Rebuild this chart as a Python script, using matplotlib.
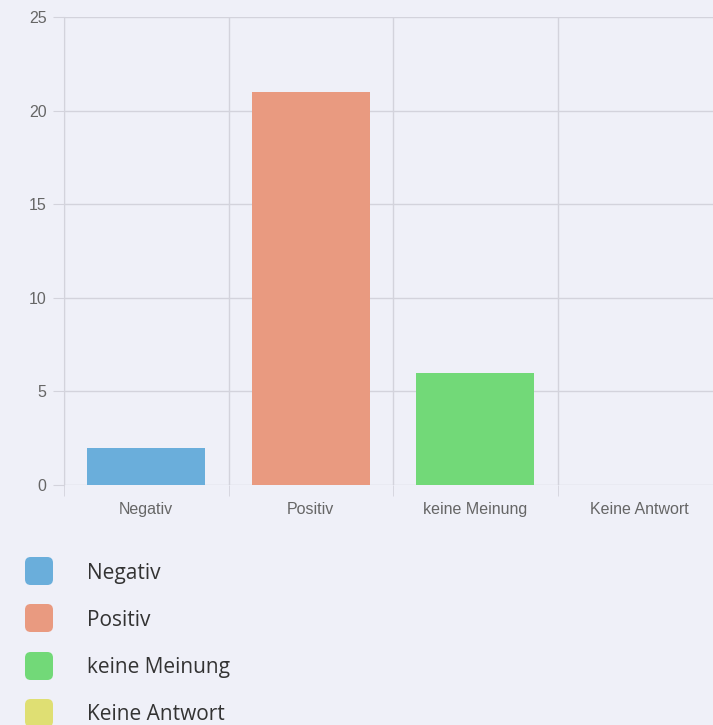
import matplotlib.pyplot as plt
from matplotlib.patches import FancyBboxPatch

categories = ['Negativ', 'Positiv', 'keine Meinung', 'Keine Antwort']
counts = [2, 21, 6, 0]
colors = ['#6aaedb', '#e99a80', '#72d978', '#dfdf73']
yticks = [0, 5, 10, 15, 20, 25]

bg = '#eff0f8'
grid_c = '#d3d3dc'

fig = plt.figure(figsize=(7.13, 7.25), dpi=100, facecolor=bg)
W, H = 713, 725
ax = fig.add_axes([64 / W, (H - 485) / H, (722 - 64) / W, (485 - 17) / H])
ax.set_facecolor(bg)

x = range(len(categories))
ax.bar(x, counts, width=0.72, color=colors, zorder=3)

ax.set_xlim(-0.5, len(categories) - 0.5)
ax.set_ylim(0, 25)
ax.set_yticks(yticks)
ax.set_xticks(list(x))
ax.set_xticklabels(categories)
ax.set_xticks([i - 0.5 for i in range(len(categories) + 1)], minor=True)

for s in ['top', 'right', 'bottom']:
    ax.spines[s].set_visible(False)
ax.spines['left'].set_color(grid_c)
ax.spines['left'].set_bounds(0, 25)

ax.grid(axis='y', color=grid_c, linewidth=1, zorder=0)
ax.grid(axis='x', which='minor', color=grid_c, linewidth=1, zorder=0)
ax.tick_params(axis='y', length=8, color=grid_c, pad=4.5,
               labelsize=11.5, labelcolor='#666666')
ax.tick_params(axis='x', which='major', length=0, pad=12,
               labelsize=11.5, labelcolor='#666666')
ax.tick_params(axis='x', which='minor', length=8, color=grid_c)
for lab in ax.get_xticklabels() + ax.get_yticklabels():
    lab.set_family(['Liberation Sans', 'DejaVu Sans'])

# legend drawn below the chart
leg_y = [571, 618, 666, 713]
for cat, col, yy in zip(categories, colors, leg_y):
    box = FancyBboxPatch((25 / W, (H - yy - 14) / H), 28 / W, 28 / H,
                         boxstyle='round,pad=0,rounding_size=0.008',
                         transform=fig.transFigure, facecolor=col,
                         edgecolor='none')
    fig.patches.append(box)
    fig.text(87 / W, (H - yy - 2) / H, cat, fontsize=15, color='#333333',
             va='center', ha='left', family=['Open Sans', 'DejaVu Sans'])

fig.savefig('out.png', dpi=100, facecolor=bg)
